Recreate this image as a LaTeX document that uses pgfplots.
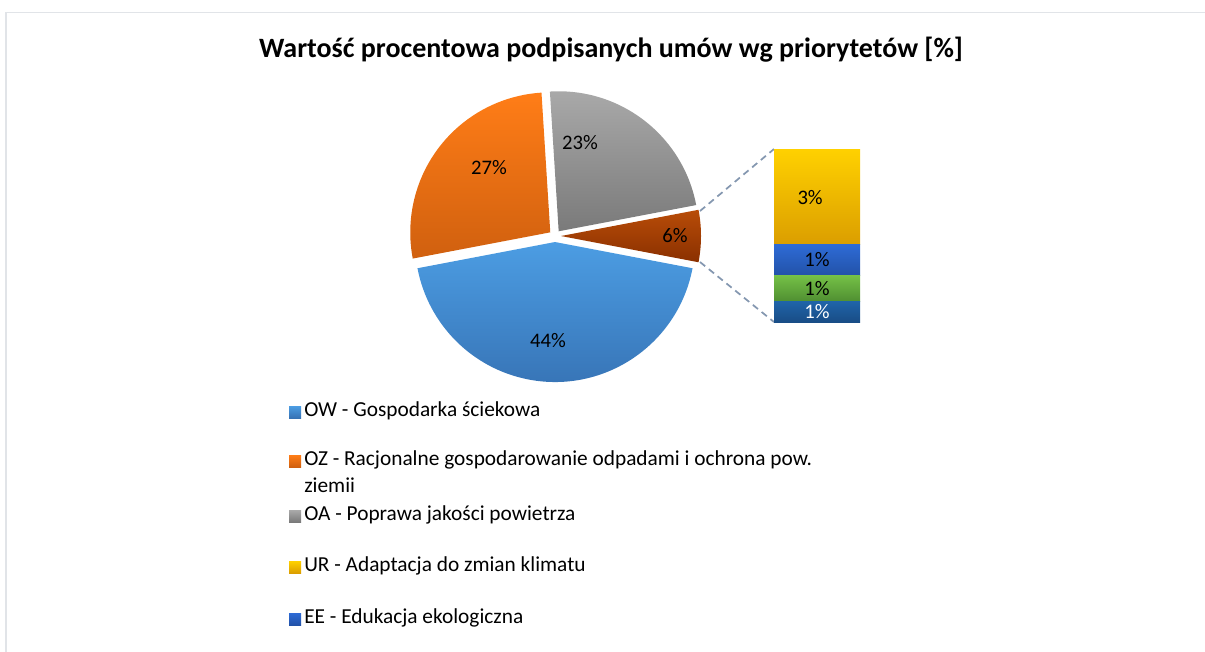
\documentclass[border=0pt]{standalone}
\usepackage{pgfplots}
\pgfplotsset{compat=1.18}
\usepackage{pgfplotstable}
\usepackage{fontspec}
\setmainfont{Carlito}
\usetikzlibrary{calc}

% slice gradients (top / bottom)
\definecolor{owT}{HTML}{4C9DE3}\definecolor{owB}{HTML}{3672B4}
\definecolor{ozT}{HTML}{FF7D17}\definecolor{ozB}{HTML}{D0600F}
\definecolor{oaT}{HTML}{AAAAAA}\definecolor{oaB}{HTML}{7A7A7A}
\definecolor{otT}{HTML}{B84C08}\definecolor{otB}{HTML}{8A3000}
\definecolor{urT}{HTML}{FFD100}\definecolor{urB}{HTML}{DB9E00}
\definecolor{eeT}{HTML}{2E6BD6}\definecolor{eeB}{HTML}{2252A8}
\definecolor{grT}{HTML}{74C046}\definecolor{grB}{HTML}{4F8E31}
\definecolor{dbT}{HTML}{1F63A8}\definecolor{dbB}{HTML}{194D86}
\definecolor{frameC}{HTML}{E1E4E8}
\definecolor{connC}{HTML}{8497B0}

% pie: value and label position (px)
\pgfplotstableread{
col val lx ly
ow 44 548 341
oz 27 489 168
oa 23 580 143
ot 6 675 236
}\pietab

\newcommand\txt{\fontsize{15.5}{18}\selectfont}
\newcommand\legtxt{\fontsize{16}{19}\selectfont}

\begin{document}
\begin{tikzpicture}
\begin{axis}[
  at={(0,0)}, anchor=north west,
  x=0.75pt, y=0.75pt, y dir=reverse,
  xmin=0, xmax=1205, ymin=0, ymax=651,
  hide axis, clip=false,
]
\coordinate (bbNW) at (axis cs:0,0);
\coordinate (bbSE) at (axis cs:1205,651);
\coordinate (barSW) at (axis cs:774,322);

% chart frame (runs past the right and bottom edges)
\draw[frameC, line width=1.1pt] (axis cs:6,700) -- (axis cs:6,12.5) -- (axis cs:1300,12.5);

\node[font=\bfseries\fontsize{21}{25}\selectfont] at (axis cs:611,50)
  {Wartość procentowa podpisanych umów wg priorytetów [\%]};

\pgfplotsextra{
  \pgfplotstablegetelem{3}{val}\of\pietab
  \pgfmathsetmacro\a{-1.8*\pgfplotsretval}
  \xdef\pieang{\a}
  \foreach \i in {0,1,2,3}{
    \pgfplotstablegetelem{\i}{val}\of\pietab \let\pv\pgfplotsretval
    \pgfplotstablegetelem{\i}{col}\of\pietab \let\pc\pgfplotsretval
    \pgfmathsetmacro\e{\pieang-3.6*\pv}
    \pgfmathsetmacro\m{(\pieang+\e)/2}
    \shade[top color=\pc T, bottom color=\pc B]
      ($(axis cs:555,236)+(\m:4.5pt)$) -- ++(\pieang:105pt)
      arc[start angle=\pieang, end angle=\e, radius=105pt] -- cycle;
    \xdef\pieang{\e}
  }
  \foreach \i in {0,1,2,3}{
    \pgfplotstablegetelem{\i}{val}\of\pietab \let\pv\pgfplotsretval
    \pgfplotstablegetelem{\i}{lx}\of\pietab \let\lx\pgfplotsretval
    \pgfplotstablegetelem{\i}{ly}\of\pietab \let\ly\pgfplotsretval
    \node[font=\txt] at (axis cs:\lx,\ly) {\pv\%};
  }
  % legend
  \foreach \lc/\ly/\lt in {ow/412/OW - Gospodarka ściekowa,
                        oz/461/OZ - Racjonalne gospodarowanie odpadami i ochrona pow.,
                        oa/516/OA - Poprawa jakości powietrza,
                        ur/567/UR - Adaptacja do zmian klimatu,
                        ee/619/EE - Edukacja ekologiczna}{
    \shade[top color=\lc T, bottom color=\lc B] (axis cs:289,\ly-6) rectangle (axis cs:301,\ly+6);
    \node[font=\legtxt, anchor=west, inner xsep=0pt, text height=1.45ex, text depth=0.3ex] at (axis cs:304,\ly+1) {\lt};
  }
  \node[font=\legtxt, anchor=west, inner xsep=0pt, text height=1.45ex, text depth=0.3ex] at (axis cs:304,489) {ziemii};
}

% connectors to the bar
\draw[connC, line width=1.3pt, dash pattern=on 5pt off 3.5pt] (axis cs:700,211) -- (axis cs:774,149);
\draw[connC, line width=1.3pt, dash pattern=on 5pt off 3.5pt] (axis cs:700,262) -- (axis cs:774,322);
\end{axis}

% bar of pie: the 6% split
\begin{axis}[
  at={(barSW)}, anchor=south west,
  scale only axis, width=64.5pt, height=129.75pt,
  xmin=-0.5, xmax=0.5, ymin=0, ymax=6,
  hide axis, clip=false,
  ybar stacked, bar width=64.5pt,
]
\addplot[draw=none, top color=dbT, bottom color=dbB] coordinates {(0,0.7)};
\addplot[draw=none, top color=grT, bottom color=grB] coordinates {(0,0.9)};
\addplot[draw=none, top color=eeT, bottom color=eeB] coordinates {(0,1.1)};
\addplot[draw=none, top color=urT, bottom color=urB] coordinates {(0,3.3)};
\coordinate (b1) at (axis cs:0,0.35);
\coordinate (b2) at (axis cs:0,1.15);
\coordinate (b3) at (axis cs:0,2.15);
\coordinate (b4) at (axis cs:-0.08,4.3);
\end{axis}
\node[font=\txt, white] at (b1) {1\%};
\node[font=\txt] at (b2) {1\%};
\node[font=\txt] at (b3) {1\%};
\node[font=\txt] at (b4) {3\%};

\pgfresetboundingbox
\path[use as bounding box] (bbNW) rectangle (bbSE);
\end{tikzpicture}
\end{document}
